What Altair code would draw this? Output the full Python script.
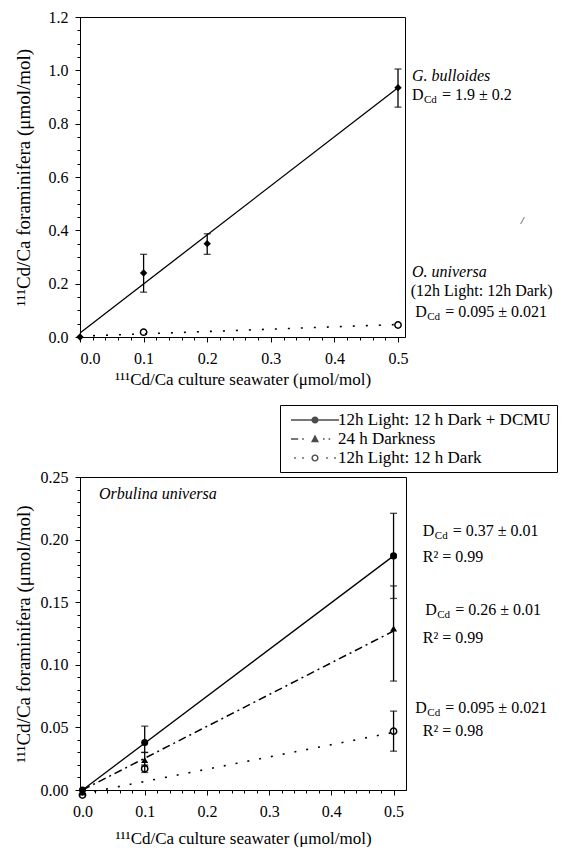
import altair as alt
import pandas as pd

FONT = "Liberation Serif"
FS = 16

# ---------------- top panel data ----------------
top_x_ticks = [0.0, 0.1, 0.2, 0.3, 0.4, 0.5]
top_y_ticks = [0.0, 0.2, 0.4, 0.6, 0.8, 1.0, 1.2]
top_x_minor = [round(i * 0.02, 2) for i in range(1, 26) if i % 5 != 0]
top_y_minor = [round(i * 0.05, 2) for i in range(1, 24) if i % 4 != 0]

gb_x = [0.0, 0.1, 0.2, 0.5]
gb_y = [0.0, 0.24, 0.35, 0.935]
gb_err_x = [0.1, 0.2, 0.5]
gb_lo = [0.168, 0.31, 0.862]
gb_hi = [0.31, 0.387, 1.005]
gb_fit_x = [0.0, 0.5]
gb_fit_y = [0.015, 0.935]

ou_x = [0.1, 0.5]
ou_y = [0.018, 0.045]
ou_fit_x = [0.0, 0.5]
ou_fit_y = [0.003, 0.047]

# annotations (top)
top_name_text = ["G. bulloides", "O. universa"]
top_name_x = [0.522, 0.522]
top_name_y = [0.979, 0.245]
top_cond_text = ["(12h Light: 12h Dark)"]
top_cond_x = [0.520]
top_cond_y = [0.1725]
top_d_val = ["= 1.9 ± 0.2", "= 0.095 ± 0.021"]
top_d_x = [0.522, 0.527]
top_d_y = [0.907, 0.0955]

# ---------------- bottom panel data ----------------
bot_x_ticks = [0.0, 0.1, 0.2, 0.3, 0.4, 0.5]
bot_y_ticks = [0.0, 0.05, 0.10, 0.15, 0.20, 0.25]
bot_x_minor = [round(i * 0.02, 2) for i in range(1, 26) if i % 5 != 0]
bot_y_minor = [round(i * 0.01, 2) for i in range(1, 25) if i % 5 != 0]

series = ["12h Light: 12 h Dark + DCMU", "24 h Darkness", "12h Light: 12 h Dark"]
b_x = [0.0, 0.1, 0.5]
dcmu_y = [0.0, 0.038, 0.187]
dark_y = [-0.002, 0.024, 0.129]
ld_y = [-0.004, 0.017, 0.047]

b_err_x = [0.1, 0.5]
dcmu_lo = [0.030, 0.153]
dcmu_hi = [0.051, 0.221]
dark_lo = [0.019, 0.087]
dark_hi = [0.030, 0.163]
ld_lo = [0.014, 0.031]
ld_hi = [0.020, 0.063]

fit_x = [0.0, 0.5]
dcmu_fit = [0.0, 0.187]
dark_fit = [0.0, 0.127]
ld_fit = [-0.003, 0.046]

bot_name_text = ["Orbulina universa"]
bot_name_x = [0.0265]
bot_name_y = [0.2364]
bot_d_val = ["= 0.37 ± 0.01", "= 0.26 ± 0.01", "= 0.095 ± 0.021"]
bot_d_x = [0.547, 0.551, 0.535]
bot_d_y = [0.2065, 0.1434, 0.0655]
bot_r_text = ["R² = 0.99", "R² = 0.99", "R² = 0.98"]
bot_r_x = [0.547, 0.547, 0.547]
bot_r_y = [0.186, 0.1214, 0.0475]

# legend symbols (line sample + marker) as filled unit-coordinate paths
RECT = "M{a},-{h}L{b},-{h}L{b},{h}L{a},{h}Z"
CIRC = "M{r},0A{r},{r},0,1,1,-{r},0A{r},{r},0,1,1,{r},0Z"
HOLE = "M{r},0A{r},{r},0,1,0,-{r},0A{r},{r},0,1,0,{r},0Z"
legend_paths = [
    RECT.format(a=-3, b=3, h=0.09) + CIRC.format(r=0.45),
    RECT.format(a=-3, b=-2.1, h=0.1) + RECT.format(a=-1.6, b=-1.4, h=0.1)
    + "M-0.5,0.4L0,-0.55L0.5,0.4Z"
    + RECT.format(a=1.0, b=1.2, h=0.1) + RECT.format(a=1.7, b=1.9, h=0.1),
    RECT.format(a=-2.6, b=-2.4, h=0.1) + RECT.format(a=-1.6, b=-1.4, h=0.1)
    + CIRC.format(r=0.45) + HOLE.format(r=0.27)
    + RECT.format(a=1.4, b=1.6, h=0.1) + RECT.format(a=2.4, b=2.6, h=0.1),
]

XTITLE = "¹¹¹Cd/Ca culture seawater (μmol/mol)"
YTITLE = "¹¹¹Cd/Ca foraminifera (μmol/mol)"


def main_x_axis(values, tpad):
    return alt.Axis(title=XTITLE, values=values, format=".1f", orient="bottom",
                    tickSize=5, labelPadding=8, titlePadding=tpad,
                    labelFont=FONT, labelFontSize=16, titleFont=FONT, titleFontSize=17)


def main_y_axis(values, fmt):
    return alt.Axis(title=YTITLE, values=values, format=fmt, orient="left",
                    tickSize=5, labelPadding=7, titleX=-57, titleBaseline="middle",
                    labelFont=FONT, labelFontSize=16, titleFont=FONT, titleFontSize=19)


def minor_axis(values, orient):
    return alt.Axis(title=None, values=values, labels=False, domain=False,
                    tickSize=3, orient=orient)


def layers_for_panel(xs, ys, xticks, yticks, yfmt, xminor, yminor, fit_df, tpad):
    main = alt.Chart(fit_df).mark_line(opacity=0).encode(
        x=alt.X("x:Q", scale=xs, axis=main_x_axis(xticks, tpad)),
        y=alt.Y("y:Q", scale=ys, axis=main_y_axis(yticks, yfmt)),
    )
    minor = alt.Chart(fit_df).mark_line(opacity=0).encode(
        x=alt.X("x:Q", scale=xs, axis=minor_axis(xminor, "bottom")),
        y=alt.Y("y:Q", scale=ys, axis=minor_axis(yminor, "left")),
    )
    return [main, minor]


def line(df, xs, ys, dash=None, width=1.3):
    kw = dict(color="black", strokeWidth=width)
    if dash:
        kw["strokeDash"] = dash
    return alt.Chart(df).mark_line(**kw).encode(
        x=alt.X("x:Q", scale=xs, axis=None), y=alt.Y("y:Q", scale=ys, axis=None))


def errbars(df, xs, ys):
    rule = alt.Chart(df).mark_rule(color="black", strokeWidth=1.3).encode(
        x=alt.X("x:Q", scale=xs, axis=None),
        y=alt.Y("lo:Q", scale=ys, axis=None), y2="hi:Q")
    cap_lo = alt.Chart(df).mark_tick(orient="horizontal", color="black", size=7, thickness=1.3).encode(
        x=alt.X("x:Q", scale=xs, axis=None), y=alt.Y("lo:Q", scale=ys, axis=None))
    cap_hi = alt.Chart(df).mark_tick(orient="horizontal", color="black", size=7, thickness=1.3).encode(
        x=alt.X("x:Q", scale=xs, axis=None), y=alt.Y("hi:Q", scale=ys, axis=None))
    return [rule, cap_lo, cap_hi]


def points(df, xs, ys, shape, filled, size=45):
    return alt.Chart(df).mark_point(shape=shape, filled=filled, color="black", size=size,
                                    strokeWidth=1.5, opacity=1).encode(
        x=alt.X("x:Q", scale=xs, axis=None), y=alt.Y("y:Q", scale=ys, axis=None))


def texts(df, xs, ys, size=FS, style="normal", dx=0, dy=0):
    return alt.Chart(df).mark_text(align="left", baseline="middle", font=FONT, fontSize=size,
                                   fontStyle=style, color="black", dx=dx, dy=dy).encode(
        x=alt.X("x:Q", scale=xs, axis=None), y=alt.Y("y:Q", scale=ys, axis=None), text="t:N")


def dcd_layers(xv, yv, vals, xs, ys):
    n = len(xv)
    d1 = pd.DataFrame({"x": xv, "y": yv, "t": ["D"] * n})
    d2 = pd.DataFrame({"x": xv, "y": yv, "t": ["Cd"] * n})
    d3 = pd.DataFrame({"x": xv, "y": yv, "t": vals})
    return [texts(d1, xs, ys), texts(d2, xs, ys, size=11, dx=12, dy=5), texts(d3, xs, ys, dx=30)]


# ---------------- top panel ----------------
XS_T = alt.Scale(domain=[0.0, 0.511], nice=False, zero=False)
YS_T = alt.Scale(domain=[0.0, 1.2], nice=False, zero=False)

gb_fit_df = pd.DataFrame({"x": gb_fit_x, "y": gb_fit_y})
ou_fit_df = pd.DataFrame({"x": ou_fit_x, "y": ou_fit_y})
gb_df = pd.DataFrame({"x": gb_x, "y": gb_y})
gb_err_df = pd.DataFrame({"x": gb_err_x, "lo": gb_lo, "hi": gb_hi})
ou_df = pd.DataFrame({"x": ou_x, "y": ou_y})

top_layers = layers_for_panel(XS_T, YS_T, top_x_ticks, top_y_ticks, ".1f",
                              top_x_minor, top_y_minor, gb_fit_df, 5)
top_layers += [
    line(gb_fit_df, XS_T, YS_T),
    line(ou_fit_df, XS_T, YS_T, dash=[2, 11], width=1.6),
]
top_layers += errbars(gb_err_df, XS_T, YS_T)
top_layers += [
    points(gb_df, XS_T, YS_T, "diamond", True, 55),
    points(ou_df, XS_T, YS_T, "circle", False, 40),
    texts(pd.DataFrame({"x": top_name_x, "y": top_name_y, "t": top_name_text}), XS_T, YS_T, style="italic"),
    texts(pd.DataFrame({"x": top_cond_x, "y": top_cond_y, "t": top_cond_text}), XS_T, YS_T),
    texts(pd.DataFrame({"x": [0.693], "y": [0.435], "t": ["/"]}), XS_T, YS_T, size=11, style="italic"),
]
top_layers += dcd_layers(top_d_x, top_d_y, top_d_val, XS_T, YS_T)

top = alt.layer(*top_layers).resolve_axis(x="independent", y="independent").properties(
    width=325, height=320)

# ---------------- bottom panel ----------------
XS_B = alt.Scale(domain=[-0.004, 0.52], nice=False, zero=False)
YS_B = alt.Scale(domain=[0.0, 0.25], nice=False, zero=False)

dcmu_fit_df = pd.DataFrame({"x": fit_x, "y": dcmu_fit})
dark_fit_df = pd.DataFrame({"x": fit_x, "y": dark_fit})
ld_fit_df = pd.DataFrame({"x": fit_x, "y": ld_fit})

bot_layers = layers_for_panel(XS_B, YS_B, bot_x_ticks, bot_y_ticks, ".2f",
                              bot_x_minor, bot_y_minor, dcmu_fit_df, 11)
bot_layers += [
    line(dcmu_fit_df, XS_B, YS_B),
    line(dark_fit_df, XS_B, YS_B, dash=[8, 4, 2, 4], width=1.5),
    line(ld_fit_df, XS_B, YS_B, dash=[2, 10], width=1.6),
]
bot_layers += errbars(pd.DataFrame({"x": b_err_x, "lo": dcmu_lo, "hi": dcmu_hi}), XS_B, YS_B)
bot_layers += errbars(pd.DataFrame({"x": b_err_x, "lo": dark_lo, "hi": dark_hi}), XS_B, YS_B)
bot_layers += errbars(pd.DataFrame({"x": b_err_x, "lo": ld_lo, "hi": ld_hi}), XS_B, YS_B)
bot_layers += [
    points(pd.DataFrame({"x": b_x, "y": dcmu_y}), XS_B, YS_B, "circle", True, 50),
    points(pd.DataFrame({"x": b_x, "y": dark_y}), XS_B, YS_B, "triangle-up", True, 50),
    points(pd.DataFrame({"x": b_x, "y": ld_y}), XS_B, YS_B, "circle", False, 40),
    texts(pd.DataFrame({"x": bot_name_x, "y": bot_name_y, "t": bot_name_text}), XS_B, YS_B, style="italic"),
    texts(pd.DataFrame({"x": bot_r_x, "y": bot_r_y, "t": bot_r_text}), XS_B, YS_B),
]
bot_layers += dcd_layers(bot_d_x, bot_d_y, bot_d_val, XS_B, YS_B)

legend_layer = alt.Chart(pd.DataFrame({"series": series})).transform_filter("false").mark_point(
    filled=True, fill="black", stroke="black", strokeWidth=1.3
).encode(
    x=alt.value(0), y=alt.value(0),
    shape=alt.Shape("series:N", scale=alt.Scale(domain=series, range=legend_paths),
                    legend=alt.Legend(title=None, orient="none", legendX=200, legendY=-72,
                                      symbolSize=256, symbolStrokeWidth=1.3,
                                      symbolFillColor="black", symbolStrokeColor="black",
                                      symbolOffset=20, labelOffset=14,
                                      labelFont=FONT, labelFontSize=17, labelColor="black",
                                      labelLimit=400, rowPadding=2, padding=6,
                                      strokeColor="black", fillColor="white")),
)
bot_layers.append(legend_layer)

bottom = alt.layer(*bot_layers).resolve_axis(x="independent", y="independent").properties(
    width=326, height=313)

chart = alt.vconcat(top, bottom, spacing=16).resolve_scale(shape="independent").resolve_legend(
    shape="independent"
).properties(
    padding={"left": 5, "top": 0, "right": 0, "bottom": 0}
).configure_view(stroke="black", strokeWidth=1).configure_axis(
    labelFont=FONT, labelFontSize=16, labelColor="black",
    titleFont=FONT, titleFontSize=17, titleFontWeight="normal", titleColor="black",
    domainColor="black", tickColor="black", grid=False, domainWidth=1, tickWidth=1,
)

chart.save("out.html", embed_options={"renderer": "svg", "actions": False})
